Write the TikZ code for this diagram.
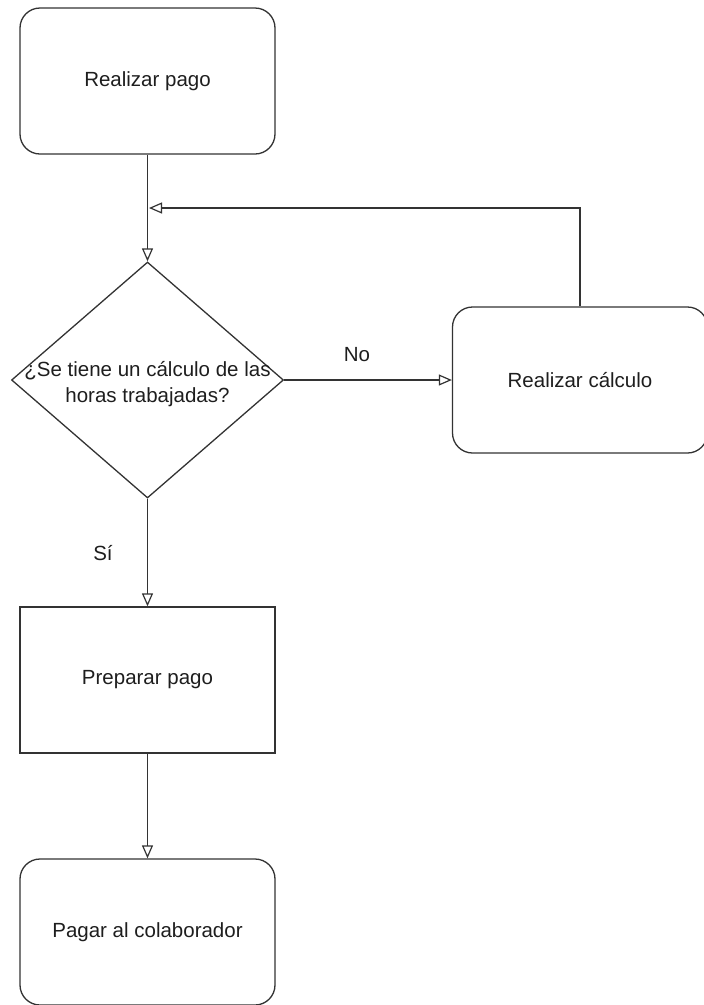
\documentclass[tikz,border=0pt]{standalone}
\usepackage{fontspec}
\setmainfont{Liberation Sans}
\usetikzlibrary{shapes.geometric,arrows.meta}
\definecolor{ink}{HTML}{333333}
\definecolor{txt}{HTML}{1E1E1E}
\tikzset{
  every node/.style={text=txt, font=\fontsize{20.5}{26}\selectfont},
  proc/.style={draw=ink, line width=1.3pt, rounded corners=20pt,
    minimum width=255pt, minimum height=146pt, inner sep=0pt},
  plainbox/.style={draw=ink, line width=1.3pt,
    minimum width=255pt, minimum height=146pt, inner sep=0pt},
  decision/.style={draw=ink, line width=1.3pt, diamond, inner sep=0pt,
    minimum width=272pt, minimum height=236pt},
  flow/.style={draw=ink, line width=1.3pt,
    -{Triangle[open, length=13pt, width=11pt, line width=1.2pt]}},
  lbl/.style={inner sep=0pt}
}
\begin{document}
\begin{tikzpicture}[x=1pt, y=-1pt]
  \useasboundingbox (0,0) rectangle (704,1005);

  % process steps
  \node[proc] (start) at (147.5,81) {Realizar pago};
  \node[decision] (dec) at (147.5,380) {};
  \node[align=center, inner sep=0pt] (dectext) at (147.5,384)
    {¿Se tiene un cálculo de las\\horas trabajadas?};
  \node[proc] (calc) at (580,380) {Realizar cálculo};
  \node[plainbox] (prep) at (147.5,680) {Preparar pago};
  \node[proc] (pay) at (147.5,932) {Pagar al colaborador};

  % return point of the loop
  \coordinate (join) at (149,208);

  % connectors
  \draw[flow] (start.south) -- (dec.north);
  \draw[flow] (dec.east) -- (calc.west);
  \draw[flow] (calc.north) |- (join);
  \draw[flow] (dec.south) -- (prep.north);
  \draw[flow] (prep.south) -- (pay.north);

  % branch labels
  \node[lbl] (no) at (357,355) {No};
  \node[lbl] (si) at (103,553) {Sí};
\end{tikzpicture}
\end{document}
